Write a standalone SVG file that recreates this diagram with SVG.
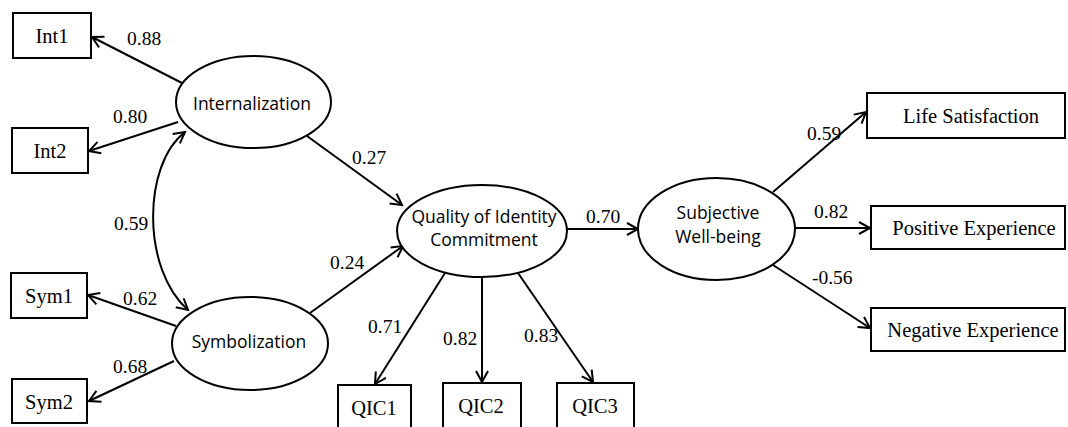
<svg xmlns="http://www.w3.org/2000/svg" width="1068" height="427" viewBox="0 0 1068 427">
<defs>
<marker id="arr" markerUnits="userSpaceOnUse" markerWidth="16" markerHeight="16" refX="13" refY="7" orient="auto-start-reverse" viewBox="0 0 16 14">
<path d="M2,1 L13,7 L2,13" fill="none" stroke="#000" stroke-width="2"/>
</marker>
<style>
.box{fill:#fff;stroke:#000;stroke-width:2}
.ell{fill:#fff;stroke:#000;stroke-width:2}
.bt{font-family:"Liberation Serif","Times New Roman",serif;font-size:20.5px;text-anchor:middle;fill:#000}
.et{font-family:"Open Sans","Noto Sans",sans-serif;font-size:17.5px;text-anchor:middle;fill:#000}
.num{font-family:"Liberation Serif","Times New Roman",serif;font-size:19.5px;fill:#000}
.ln{stroke:#000;stroke-width:2;fill:none;marker-end:url(#arr)}
</style>
</defs>
<rect width="1068" height="427" fill="#fff"/>
<g id="connectors">
<line class="ln" x1="182" y1="83" x2="92" y2="37"/>
<line class="ln" x1="178" y1="122" x2="89" y2="151"/>
<path class="ln" d="M188,310 C142,270 142,165 185,132" marker-start="url(#arr)"/>
<line class="ln" x1="176" y1="326" x2="88" y2="295"/>
<line class="ln" x1="174" y1="361" x2="89" y2="401"/>
<line class="ln" x1="307" y1="136" x2="402" y2="205"/>
<line class="ln" x1="310" y1="313" x2="403" y2="246"/>
<line class="ln" x1="445" y1="273" x2="375" y2="384"/>
<line class="ln" x1="482" y1="277" x2="482" y2="382"/>
<line class="ln" x1="518" y1="273" x2="593" y2="382"/>
<line class="ln" x1="567" y1="229" x2="638" y2="229"/>
<line class="ln" x1="773" y1="192" x2="866" y2="112"/>
<line class="ln" x1="795" y1="228" x2="870" y2="228"/>
<line class="ln" x1="773" y1="265" x2="870" y2="328"/>
<text class="num" x="127" y="45">0.88</text>
<text class="num" x="113" y="123">0.80</text>
<text class="num" x="114" y="230">0.59</text>
<text class="num" x="123" y="305">0.62</text>
<text class="num" x="113" y="373">0.68</text>
<text class="num" x="352" y="164">0.27</text>
<text class="num" x="330" y="269">0.24</text>
<text class="num" x="368" y="333">0.71</text>
<text class="num" x="443" y="345">0.82</text>
<text class="num" x="524" y="342">0.83</text>
<text class="num" x="586" y="223">0.70</text>
<text class="num" x="807" y="140">0.59</text>
<text class="num" x="814" y="218">0.82</text>
<text class="num" x="812" y="284">-0.56</text>
</g>
<g id="int1"><rect class="box" x="13" y="13" width="78" height="45"/><text class="bt" x="52" y="43">Int1</text></g>
<g id="int2"><rect class="box" x="12" y="128" width="76" height="45"/><text class="bt" x="50" y="158">Int2</text></g>
<g id="sym1"><rect class="box" x="11" y="273" width="76" height="45"/><text class="bt" x="49" y="303">Sym1</text></g>
<g id="sym2"><rect class="box" x="12" y="379" width="75" height="44"/><text class="bt" x="49" y="409">Sym2</text></g>
<g id="internalization"><ellipse class="ell" cx="253.5" cy="102" rx="77.5" ry="46"/><text class="et" x="252" y="110">Internalization</text></g>
<g id="symbolization"><ellipse class="ell" cx="250" cy="343.5" rx="78" ry="46.5"/><text class="et" x="249" y="348">Symbolization</text></g>
<g id="qic"><ellipse class="ell" cx="482" cy="231" rx="85" ry="46"/><text class="et" x="484" y="223">Quality of Identity</text><text class="et" x="484" y="246">Commitment</text></g>
<g id="swb"><ellipse class="ell" cx="716.5" cy="229" rx="78.5" ry="51"/><text class="et" x="718" y="219">Subjective</text><text class="et" x="718" y="243">Well-being</text></g>
<g id="qic1"><rect class="box" x="338" y="385" width="73" height="50"/><text class="bt" x="374" y="415">QIC1</text></g>
<g id="qic2"><rect class="box" x="443" y="383" width="78" height="52"/><text class="bt" x="481" y="413">QIC2</text></g>
<g id="qic3"><rect class="box" x="557" y="383" width="77" height="52"/><text class="bt" x="595" y="413">QIC3</text></g>
<g id="life"><rect class="box" x="867" y="93" width="198" height="45"/><text class="bt" x="971" y="123">Life Satisfaction</text></g>
<g id="pos"><rect class="box" x="871" y="206" width="194" height="43"/><text class="bt" x="974" y="235">Positive Experience</text></g>
<g id="neg"><rect class="box" x="871" y="308" width="194" height="43"/><text class="bt" x="973" y="337">Negative Experience</text></g>
</svg>
